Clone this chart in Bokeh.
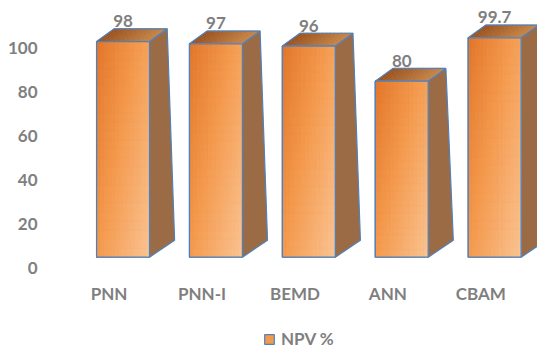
from bokeh.plotting import figure
from bokeh.layouts import column
from bokeh.models import Range1d, FixedTicker, ColumnDataSource, Legend, LegendItem
from bokeh.embed import file_html
from bokeh.resources import INLINE
from bokeh.core.properties import value

# ---- data ----
categories = ["PNN", "PNN-I", "BEMD", "ANN", "CBAM"]
npv = [98, 97, 96, 80, 99.7]
npv_labels = ["98", "97", "96", "80", "99.7"]
y_ticks = [0, 20, 40, 60, 80, 100]
series_name = "NPV %"

# ---- 3D column styling (data units) ----
BAR_SHIFT = 0.15      # columns sit a little right of their category tick
HALF_W = 0.285        # half width of the front face
BASE = 5.0            # front face floor, lifted by the perspective
DX_BOT, DY_BOT = 0.27, 7.7   # depth offset at the floor
DX_TOP, DY_TOP = 0.19, 5.8   # depth offset at the top
LABEL_GAP = 3.5
NC, NR = 14, 24       # gradient grid on the front face

TEXT = "#7f7f7f"
EDGE = "#4f81bd"
SIDE = "#9b6b45"
SWATCH = "#f29a4e"
FONT = "Lato"


def hexrgb(h):
    return tuple(int(h[i:i + 2], 16) for i in (1, 3, 5))


def ramp(stops, t):
    for (t0, c0), (t1, c1) in zip(stops, stops[1:]):
        if t <= t1:
            f = (t - t0) / (t1 - t0) if t1 > t0 else 0
            a, b = hexrgb(c0), hexrgb(c1)
            return "#%02x%02x%02x" % tuple(round(a[k] + (b[k] - a[k]) * f) for k in range(3))
    return stops[-1][1]


FRONT_STOPS = [(0.0, "#e2762a"), (0.45, "#f49a4e"), (1.0, "#fac493")]
TOP_STOPS = [(0.0, "#99521f"), (1.0, "#c7864a")]

p = figure(width=537, height=315, output_backend="svg", toolbar_location=None,
           x_range=Range1d(-0.631, 4.611), y_range=Range1d(-3.32, 121.68),
           min_border_left=50, min_border_right=0, min_border_top=0,
           min_border_bottom=40)
p.outline_line_color = None
p.grid.visible = False
p.background_fill_color = "white"
p.border_fill_color = "white"

centers = [i + BAR_SHIFT for i in range(len(npv))]
left = [c - HALF_W for c in centers]
right = [c + HALF_W for c in centers]
tops = [v + BASE for v in npv]

# solid base colour under the gradient
base_src = ColumnDataSource(dict(l=left, r=right, b=[BASE] * len(npv), t=tops))
p.quad(left="l", right="r", bottom="b", top="t", source=base_src,
       fill_color=SWATCH, line_color=EDGE, line_width=1.2)

# side faces
side_xs, side_ys = [], []
for r_, t_ in zip(right, tops):
    side_xs.append([r_, r_, r_ + DX_TOP, r_ + DX_BOT])
    side_ys.append([BASE, t_, t_ + DY_TOP, BASE + DY_BOT])
p.patches(side_xs, side_ys, fill_color=SIDE, line_color=EDGE, line_width=1.2)

# top faces, shaded left to right
tx, ty, tc = [], [], []
for l_, r_, t_ in zip(left, right, tops):
    w = (r_ - l_) / NC
    for k in range(NC):
        x0, x1 = l_ + k * w, l_ + (k + 1) * w
        tx.append([x0, x1, x1 + DX_TOP, x0 + DX_TOP])
        ty.append([t_, t_, t_ + DY_TOP, t_ + DY_TOP])
        tc.append(ramp(TOP_STOPS, (k + 0.5) / NC))
p.patches("xs", "ys", source=ColumnDataSource(dict(xs=tx, ys=ty, c=tc)),
          fill_color="c", line_color="c", line_width=0.8)
top_xs = [[l_, r_, r_ + DX_TOP, l_ + DX_TOP] for l_, r_ in zip(left, right)]
top_ys = [[t_, t_, t_ + DY_TOP, t_ + DY_TOP] for t_ in tops]
p.patches(top_xs, top_ys, fill_color=None, line_color=EDGE, line_width=1.2)

# front faces, diagonal gradient
fl, fr, fb, ft, fc = [], [], [], [], []
for l_, r_, t_ in zip(left, right, tops):
    w = (r_ - l_) / NC
    h = (t_ - BASE) / NR
    for i in range(NC):
        for j in range(NR):
            u = (i + 0.5) / NC
            v = 1 - (j + 0.5) / NR
            fl.append(l_ + i * w)
            fr.append(l_ + (i + 1) * w)
            fb.append(BASE + j * h)
            ft.append(BASE + (j + 1) * h)
            fc.append(ramp(FRONT_STOPS, 0.55 * u + 0.45 * v))
p.quad(left="l", right="r", bottom="b", top="t",
       source=ColumnDataSource(dict(l=fl, r=fr, b=fb, t=ft, c=fc)),
       fill_color="c", line_color="c", line_width=0.6)
p.quad(left="l", right="r", bottom="b", top="t", source=base_src,
       fill_color=None, line_color=EDGE, line_width=1.3)

# value labels
p.text(x=centers, y=[t_ + DY_TOP + LABEL_GAP for t_ in tops], text=npv_labels,
       text_align="center", text_baseline="middle",
       text_font=value(FONT), text_font_style="bold",
       text_font_size="17px", text_color=TEXT)

# axes
p.yaxis.ticker = FixedTicker(ticks=y_ticks)
p.yaxis.axis_line_color = None
p.yaxis.major_tick_line_color = None
p.yaxis.minor_tick_line_color = None
p.yaxis.major_label_standoff = 7
p.yaxis.major_label_text_font = FONT
p.yaxis.major_label_text_font_style = "bold"
p.yaxis.major_label_text_font_size = "17px"
p.yaxis.major_label_text_color = TEXT

p.xaxis.ticker = FixedTicker(ticks=list(range(len(categories))))
p.xaxis.major_label_overrides = {i: c for i, c in enumerate(categories)}
p.xaxis.axis_line_color = None
p.xaxis.major_tick_line_color = None
p.xaxis.minor_tick_line_color = None
p.xaxis.major_label_standoff = 1
p.xaxis.major_label_text_font = FONT
p.xaxis.major_label_text_font_style = "bold"
p.xaxis.major_label_text_font_size = "17px"
p.xaxis.major_label_text_color = TEXT

# legend strip under the chart (its frame lines up with the chart frame)
lg = figure(width=537, height=36, output_backend="svg", toolbar_location=None,
            x_axis_location=None, y_axis_location=None,
            x_range=Range1d(0, 1), y_range=Range1d(0, 1),
            min_border=0)
lg.outline_line_color = None
lg.grid.visible = False
# legend key renderer, kept outside the visible range
swatch = lg.quad(left=[2], right=[3], bottom=[2], top=[3],
                 fill_color=SWATCH, line_color=EDGE, line_width=1.2)
legend = Legend(items=[LegendItem(label=series_name, renderers=[swatch])],
                location=(213, 2), orientation="horizontal",
                glyph_width=12, glyph_height=12, label_standoff=6,
                padding=0, margin=0, border_line_color=None,
                background_fill_alpha=0,
                label_text_font=FONT, label_text_font_style="bold",
                label_text_font_size="17px", label_text_color=TEXT)
lg.add_layout(legend)

open("out.html", "w").write(file_html(column(p, lg, spacing=0), INLINE))
